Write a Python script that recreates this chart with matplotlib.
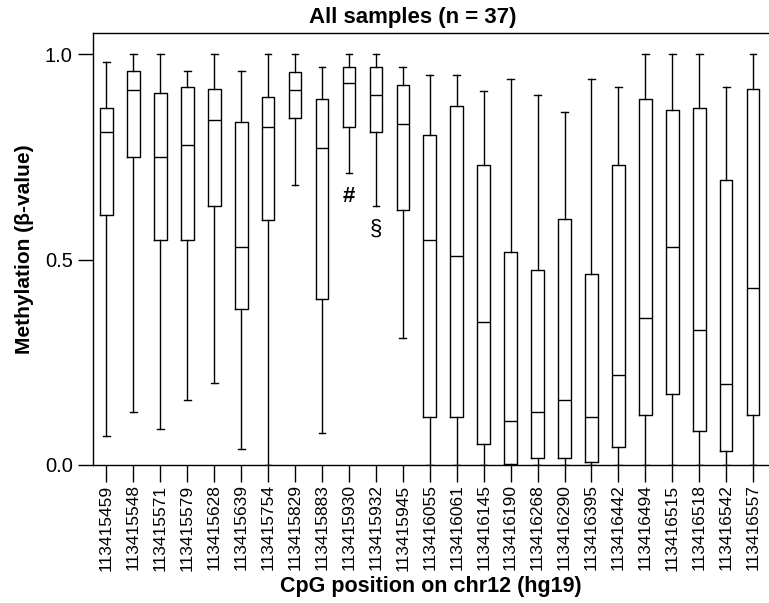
import matplotlib
matplotlib.use('Agg')
import matplotlib.pyplot as plt

plt.rcParams['font.family'] = ['Liberation Sans', 'DejaVu Sans']

positions = ['113415459', '113415548', '113415571', '113415579', '113415628',
             '113415639', '113415754', '113415829', '113415883', '113415930',
             '113415932', '113415945', '113416055', '113416061', '113416145',
             '113416190', '113416268', '113416290', '113416395', '113416442',
             '113416494', '113416515', '113416518', '113416542', '113416557']

# five-number summaries
whislo = [0.070, 0.128, 0.087, 0.159, 0.199, 0.038, 0.0, 0.681, 0.079, 0.710,
          0.630, 0.309, 0.0, 0.0, 0.0, 0.0, 0.0, 0.0, 0.0, 0.0,
          0.0, 0.0, 0.0, 0.0, 0.0]
q1 = [0.610, 0.751, 0.549, 0.549, 0.630, 0.379, 0.596, 0.846, 0.404, 0.822,
      0.810, 0.620, 0.118, 0.118, 0.052, 0.003, 0.018, 0.018, 0.008, 0.043,
      0.122, 0.174, 0.083, 0.033, 0.122]
med = [0.810, 0.912, 0.751, 0.780, 0.841, 0.530, 0.822, 0.912, 0.771, 0.930,
       0.900, 0.830, 0.549, 0.509, 0.349, 0.108, 0.128, 0.159, 0.118, 0.218,
       0.359, 0.530, 0.329, 0.198, 0.430]
q3 = [0.870, 0.960, 0.905, 0.921, 0.916, 0.835, 0.895, 0.957, 0.891, 0.970,
      0.970, 0.925, 0.804, 0.875, 0.730, 0.519, 0.474, 0.600, 0.464, 0.730,
      0.891, 0.865, 0.870, 0.695, 0.915]
whishi = [0.982, 1.0, 1.0, 0.960, 1.0, 0.960, 1.0, 1.0, 0.970, 1.0,
          1.0, 0.970, 0.950, 0.950, 0.911, 0.940, 0.900, 0.860, 0.940, 0.921,
          1.0, 1.0, 1.0, 0.921, 1.0]

# significance marks under boxes 10 and 11
marks = {10: ('#', 0.655), 11: ('\u00a7', 0.575)}

stats = []
for i in range(len(positions)):
    stats.append({'whislo': whislo[i], 'q1': q1[i], 'med': med[i],
                  'q3': q3[i], 'whishi': whishi[i], 'fliers': []})

fig = plt.figure(figsize=(7.69, 6.03), dpi=100)
ax = fig.add_axes([93 / 769, 1 - 465 / 603, 1 - 93 / 769, (465 - 33) / 603])

lw = 1.0
ax.bxp(stats, positions=range(1, len(positions) + 1), widths=0.47,
       showfliers=False, patch_artist=False,
       boxprops=dict(color='black', linewidth=lw),
       medianprops=dict(color='black', linewidth=lw),
       whiskerprops=dict(color='black', linewidth=lw),
       capprops=dict(color='black', linewidth=lw),
       capwidths=0.25)

for k, (sym, y) in marks.items():
    ax.text(k, y, sym, ha='center', va='center', fontsize=16,
            fontweight='bold' if sym == '#' else 'normal')

ax.set_xlim(0.5, 25.59)
ax.set_ylim(0, 1.052)
ax.set_yticks([0.0, 0.5, 1.0])
ax.set_yticklabels(['0.0', '0.5', '1.0'])
ax.set_xticks(range(1, len(positions) + 1))
ax.set_xticklabels(positions, rotation=90)
ax.tick_params(axis='both', direction='out', length=11, width=1, labelsize=14.5)
ax.tick_params(axis='x', length=12, pad=2, labelsize=12.5)
ax.spines['right'].set_visible(False)
for s in ['left', 'bottom', 'top']:
    ax.spines[s].set_linewidth(1)

ax.set_ylabel('Methylation (\u03b2-value)', fontsize=15, fontweight='bold', labelpad=8)
ax.set_xlabel('CpG position on chr12 (hg19)', fontsize=15.5, fontweight='bold', labelpad=4)
fig.text(413 / 769, 1 - 17 / 603, 'All samples (n = 37)', ha='center', va='center',
         fontsize=16, fontweight='bold')

fig.savefig('out.png', dpi=100)
